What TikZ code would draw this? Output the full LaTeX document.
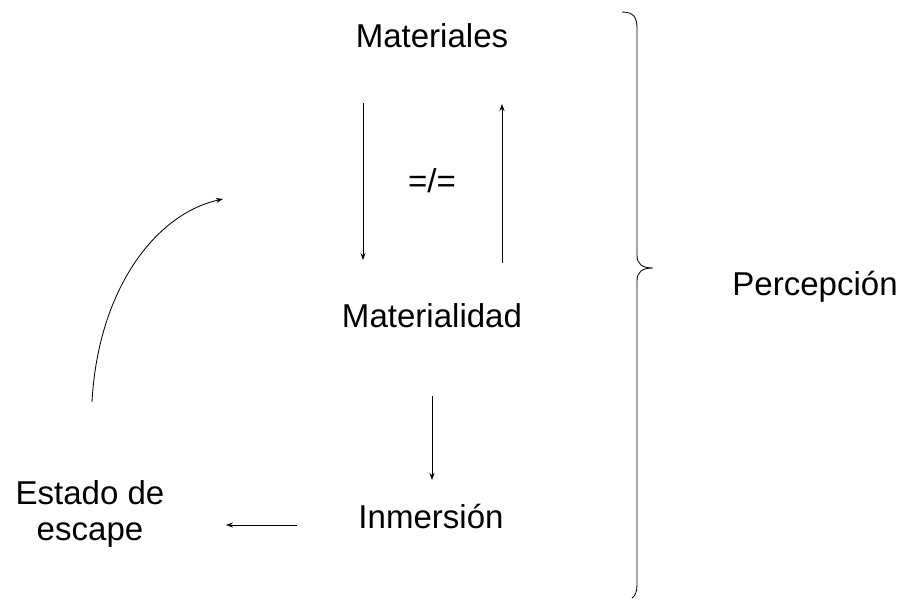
\documentclass[tikz,border=0pt]{standalone}
\usepackage{fontspec}
\setmainfont{Liberation Sans}
\usetikzlibrary{arrows.meta}
\begin{document}
\begin{tikzpicture}[x=0.025cm,y=-0.025cm,every node/.style={font=\fontsize{23.5}{25.6}\selectfont,inner sep=0pt},
  arr/.style={-{Stealth[length=5pt,width=3.6pt]},line width=0.6pt}]
  \useasboundingbox (0,0) rectangle (904,601);
  \node[anchor=base] (mat) at (432,47) {Materiales};
  \node[anchor=base] (matd) at (432,327) {Materialidad};
  \node[anchor=base] (inm) at (431,528) {Inmersión};
  \node[align=center] (esc) at (90,514) {Estado de\\escape};
  \node[anchor=base] (perc) at (815,295) {Percepción};
  \node[anchor=base] (neq) at (432,192) {=/=};
  \coordinate (a1) at (363,103); \coordinate (a2) at (363,260);
  \coordinate (b1) at (502,263); \coordinate (b2) at (502,104);
  \coordinate (c1) at (432,396); \coordinate (c2) at (432,480);
  \coordinate (d1) at (297,525); \coordinate (d2) at (226,525);
  \coordinate (e1) at (92,402); \coordinate (e2) at (223,199);
  \draw[arr] (a1)--(a2);
  \draw[arr] (b1)--(b2);
  \draw[arr] (c1)--(c2);
  \draw[arr] (d1)--(d2);
  \draw[arr] (e1) .. controls (98,290) and (155,214) .. (e2);
  \draw[line width=0.6pt] (622,12) .. controls (634,12) and (637,18) .. (637,28) -- (637,255)
    .. controls (637,264) and (642,268) .. (653,268) .. controls (642,268) and (637,272) .. (637,281)
    -- (637,585) .. controls (637,592) and (635,596) .. (632,598);
\end{tikzpicture}
\end{document}
